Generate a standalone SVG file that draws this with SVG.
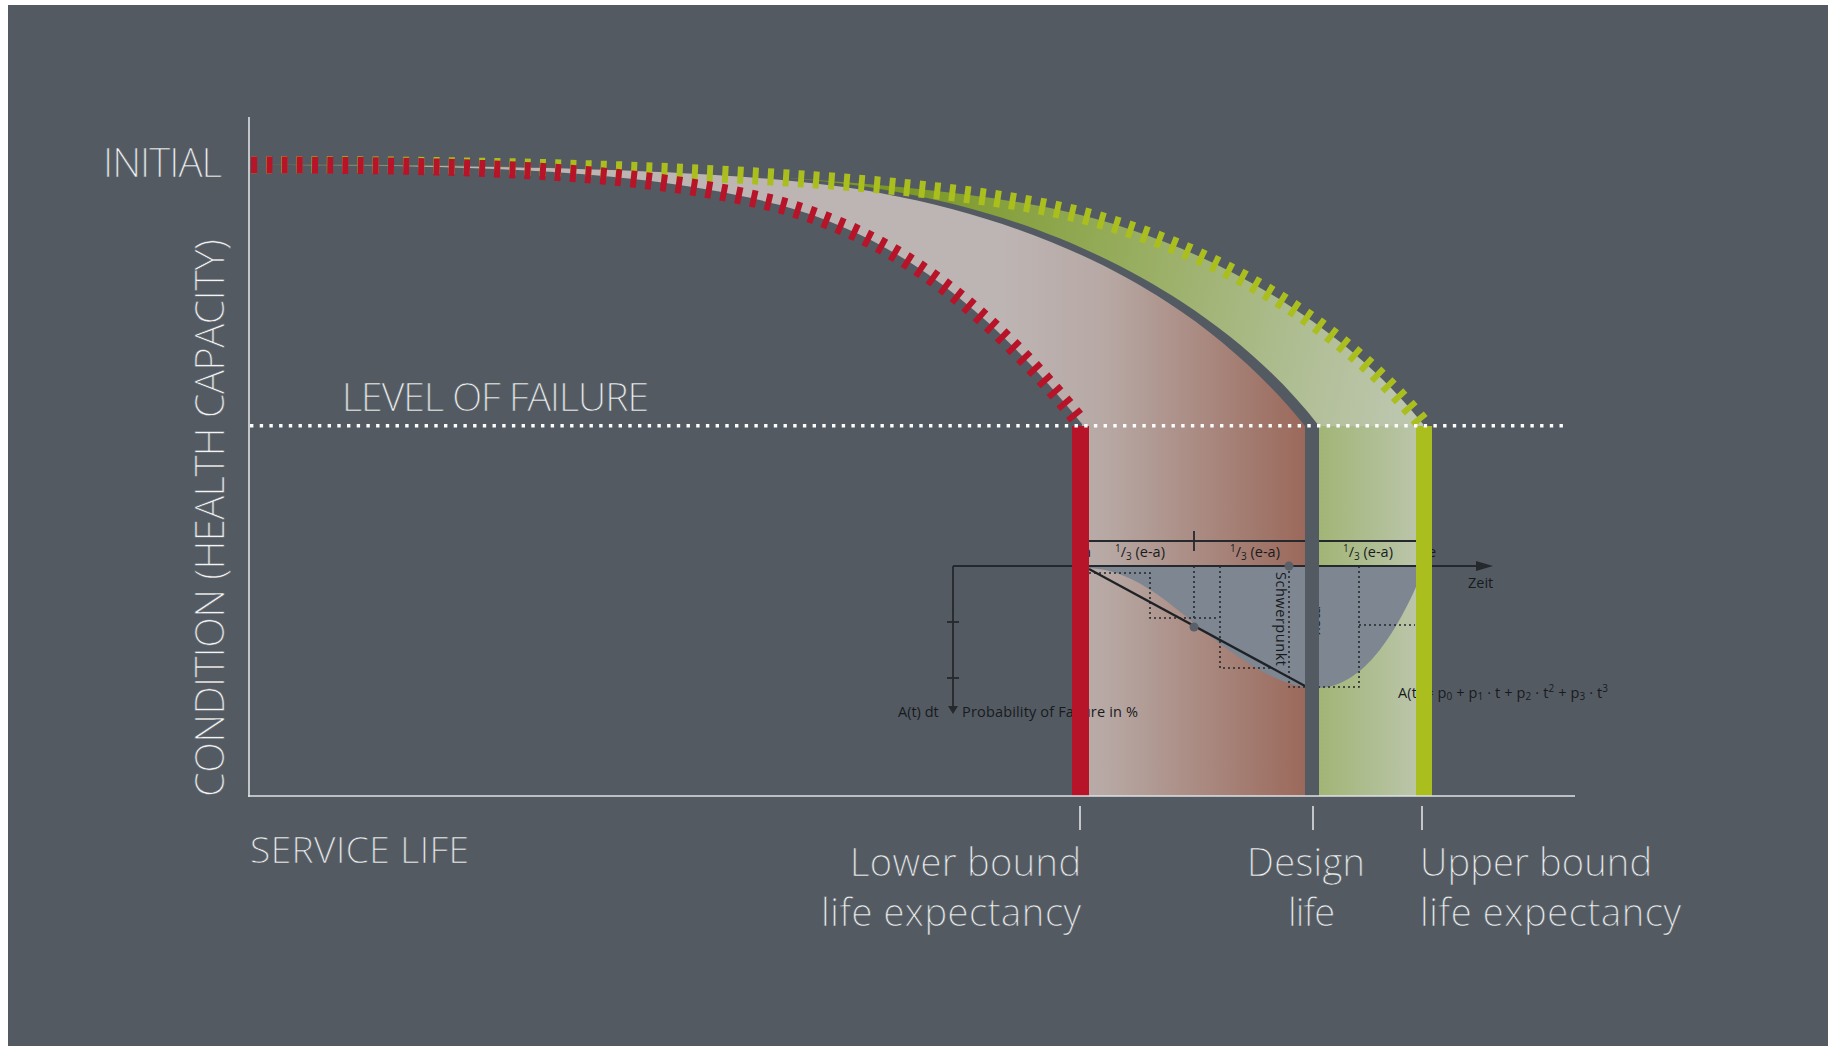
<svg xmlns="http://www.w3.org/2000/svg" width="1828" height="1046" viewBox="0 0 1828 1046">
<defs>
<style>
.lbl{font-family:"Open Sans","Noto Sans","Liberation Sans",sans-serif;font-weight:300;fill:#f2f4f5;stroke:#535a62;stroke-width:0.5}
.sm{font-family:"Open Sans","Noto Sans","Liberation Sans",sans-serif;font-size:14.5px;fill:#181b1e}
.bg{fill:#535a62}
.dl{fill:none;stroke:#25292d;stroke-width:1.6;stroke-dasharray:2 3}
.ax{stroke:#dfe2e5;stroke-width:1.6;fill:none}
.ln{stroke:#25292d;stroke-width:1.8}
</style>
<linearGradient id="gB" gradientUnits="userSpaceOnUse" x1="1000" y1="0" x2="1305" y2="0">
<stop offset="0" stop-color="#bdb5b4"/><stop offset="0.35" stop-color="#b7a8a4"/><stop offset="1" stop-color="#9b695b"/>
</linearGradient>
<linearGradient id="gG" gradientUnits="userSpaceOnUse" x1="900" y1="200" x2="1420" y2="300">
<stop offset="0" stop-color="#7b9726"/><stop offset="0.45" stop-color="#97ad5f"/><stop offset="0.8" stop-color="#b0be94"/><stop offset="1" stop-color="#bcc6ad"/>
</linearGradient>
<linearGradient id="gG2" gradientUnits="userSpaceOnUse" x1="1319" y1="0" x2="1416" y2="0">
<stop offset="0" stop-color="#a2b576"/><stop offset="1" stop-color="#bac5a9"/>
</linearGradient>
</defs>
<rect width="1828" height="1046" fill="#ffffff"/>
<rect x="8" y="5" width="1820" height="1041" class="bg"/>

<g id="bands">
<path d="M251,165 C560,163 900,175 1059,210 C1200,240 1340,320 1423,424 L1424,796 L251,796 Z" fill="url(#gG)"/>
<rect x="1319" y="426" width="105" height="370" fill="url(#gG2)"/>
<path d="M251,165 C600,165 780,172 880,189 C1010,210 1110,255 1182,302 C1240,340 1285,382 1319,426 L1319,796 L251,796 Z" class="bg"/>
<path d="M251,165 C600,165 780,174 880,193 C1005,216 1100,258 1167,302 C1220,336 1270,382 1305,426 L1305,796 L251,796 Z" fill="url(#gB)"/>
<path d="M251,165 C500,165 650,172 780,205 C900,238 990,310 1082,424 L1082,796 L251,796 Z" class="bg"/>
</g>

<g id="inner-chart">
<path d="M1089,568 C1130,570 1160,595 1200,628 C1240,660 1280,688 1317,688 C1360,688 1395,640 1425,566 L1089,566 Z" fill="#7e8692"/>
<line class="ln" x1="1080" y1="541" x2="1420" y2="541"/>
<line class="ln" x1="1194" y1="531" x2="1194" y2="551"/>
<line class="ln" x1="953" y1="566" x2="1480" y2="566"/>
<path d="M1476,561 L1493,566 L1476,571 Z" fill="#25292d"/>
<line class="ln" x1="953" y1="566" x2="953" y2="707"/>
<path d="M948,706 L958,706 L953,714 Z" fill="#25292d"/>
<line class="ln" x1="947" y1="622" x2="959" y2="622"/>
<line class="ln" x1="947" y1="678" x2="959" y2="678"/>
<path class="dl" d="M1089,573 H1150 V618 H1218 M1194,566 V618 M1220,566 V668 H1273 M1289,566 V687 H1359 V566 M1359,625 H1415"/>
<line x1="1089" y1="569" x2="1305" y2="686" stroke="#1e2226" stroke-width="2.2"/>
<circle cx="1194" cy="627" r="4.5" fill="#5a6068"/>
<circle cx="1289" cy="566" r="4.5" fill="#5a6068"/>
<text class="sm" x="1115" y="557"><tspan font-size="10" dy="-5">1</tspan><tspan dy="5">/</tspan><tspan font-size="10" dy="3">3</tspan><tspan dy="-3"> (e-a)</tspan></text>
<text class="sm" x="1230" y="557"><tspan font-size="10" dy="-5">1</tspan><tspan dy="5">/</tspan><tspan font-size="10" dy="3">3</tspan><tspan dy="-3"> (e-a)</tspan></text>
<text class="sm" x="1343" y="557"><tspan font-size="10" dy="-5">1</tspan><tspan dy="5">/</tspan><tspan font-size="10" dy="3">3</tspan><tspan dy="-3"> (e-a)</tspan></text>
<text class="sm" x="1083" y="557">a</text>
<text class="sm" x="1428" y="557">e</text>
<text class="sm" x="1468" y="588">Zeit</text>
<text class="sm" transform="translate(1276,572) rotate(90)" textLength="94">Schwerpunkt</text>
<text class="sm" transform="translate(1312,606) rotate(90)">max</text>
<text class="sm" x="898" y="717">A(t) dt</text>
<text class="sm" x="962" y="717" textLength="176">Probability of Failure in %</text>
<text class="sm" x="1398" y="698" textLength="210">A(t) = p<tspan font-size="10" dy="2">0</tspan><tspan dy="-2"> + p</tspan><tspan font-size="10" dy="2">1</tspan><tspan dy="-2"> · t + p</tspan><tspan font-size="10" dy="2">2</tspan><tspan dy="-2"> · t</tspan><tspan font-size="10" dy="-6">2</tspan><tspan dy="6"> + p</tspan><tspan font-size="10" dy="2">3</tspan><tspan dy="-2"> · t</tspan><tspan font-size="10" dy="-6">3</tspan></text>
</g>

<g id="bars">
<rect id="lower-bar" x="1072" y="426" width="17" height="370" fill="#b71429"/>
<rect id="design-gap" x="1305" y="426" width="14" height="370" class="bg"/>
<rect id="upper-bar" x="1416" y="426" width="16" height="370" fill="#aabe1e"/>
</g>

<g id="curves">
<path id="upper-curve" d="M251,165 C560,163 900,175 1059,210 C1200,240 1340,320 1423,424" fill="none" stroke="#aabe1e" stroke-width="17" stroke-dasharray="6 9.2"/>
<path id="lower-curve" d="M251,165 C500,165 650,172 780,205 C900,238 990,310 1082,424" fill="none" stroke="#b71429" stroke-width="17" stroke-dasharray="6 9.2"/>
</g>

<g id="connectors">
<line class="ax" x1="249" y1="117" x2="249" y2="797"/>
<line class="ax" x1="248" y1="796" x2="1575" y2="796"/>
<line x1="250" y1="425.7" x2="1566" y2="425.7" stroke="#ffffff" stroke-width="3.4" stroke-dasharray="3.4 6.3"/>
<line class="ax" x1="1080" y1="806" x2="1080" y2="830"/>
<line class="ax" x1="1313" y1="806" x2="1313" y2="830"/>
<line class="ax" x1="1422" y1="806" x2="1422" y2="830"/>
</g>

<g id="labels">
<text class="lbl" x="103" y="177" font-size="40" textLength="119">INITIAL</text>
<text class="lbl" x="342" y="411" font-size="39" textLength="307">LEVEL OF FAILURE</text>
<text class="lbl" x="250" y="863" font-size="37" textLength="219">SERVICE LIFE</text>
<text class="lbl" transform="translate(224,797) rotate(-90)" font-size="40" textLength="558">CONDITION (HEALTH CAPACITY)</text>
<text class="lbl" x="850" y="876" font-size="38" textLength="231">Lower bound</text>
<text class="lbl" x="821" y="926" font-size="38" textLength="260">life expectancy</text>
<text class="lbl" x="1247" y="876" font-size="38" textLength="118">Design</text>
<text class="lbl" x="1288" y="926" font-size="38" textLength="47">life</text>
<text class="lbl" x="1420" y="876" font-size="38" textLength="232">Upper bound</text>
<text class="lbl" x="1420" y="926" font-size="38" textLength="261">life expectancy</text>
</g>
</svg>
